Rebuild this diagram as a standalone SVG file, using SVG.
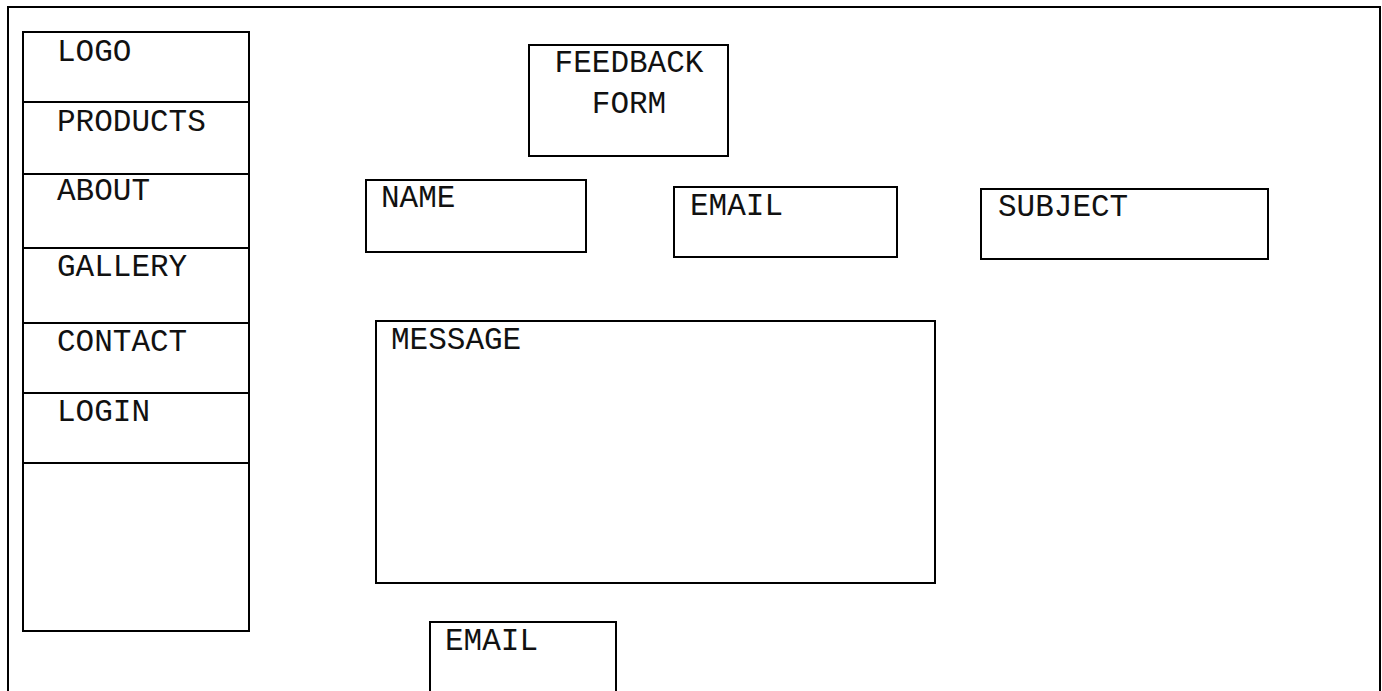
<svg xmlns="http://www.w3.org/2000/svg" width="1382" height="691" viewBox="0 0 1382 691">
  <style>
    .box { fill: #ffffff; stroke: #000000; stroke-width: 2; }
    .line { stroke: #000000; stroke-width: 2; }
    .lbl { font-family: "Liberation Mono", "Courier New", monospace; font-size: 31px; fill: #111111; }
    .mid { text-anchor: middle; }
  </style>
  <rect width="1382" height="691" fill="#ffffff"/>

  <!-- page frame -->
  <g id="page-frame">
    <rect class="box" x="8" y="7" width="1372" height="700" fill="none"/>
  </g>

  <!-- navigation sidebar -->
  <g id="sidebar">
    <rect class="box" x="23" y="32" width="226" height="599"/>
    <line class="line" x1="23" y1="102" x2="249" y2="102"/>
    <line class="line" x1="23" y1="174" x2="249" y2="174"/>
    <line class="line" x1="23" y1="248" x2="249" y2="248"/>
    <line class="line" x1="23" y1="323" x2="249" y2="323"/>
    <line class="line" x1="23" y1="393" x2="249" y2="393"/>
    <line class="line" x1="23" y1="463" x2="249" y2="463"/>
  </g>
  <g id="nav-logo"><text class="lbl" x="57" y="61">LOGO</text></g>
  <g id="nav-products"><text class="lbl" x="57" y="131">PRODUCTS</text></g>
  <g id="nav-about"><text class="lbl" x="57" y="200">ABOUT</text></g>
  <g id="nav-gallery"><text class="lbl" x="57" y="276">GALLERY</text></g>
  <g id="nav-contact"><text class="lbl" x="57" y="351">CONTACT</text></g>
  <g id="nav-login"><text class="lbl" x="57" y="421">LOGIN</text></g>

  <!-- form title -->
  <g id="title">
    <rect class="box" x="529" y="45" width="199" height="111"/>
    <text class="lbl mid" x="629" y="72">FEEDBACK</text>
    <text class="lbl mid" x="629" y="113">FORM</text>
  </g>

  <!-- input fields -->
  <g id="field-name">
    <rect class="box" x="366" y="180" width="220" height="72"/>
    <text class="lbl" x="381" y="207">NAME</text>
  </g>
  <g id="field-email">
    <rect class="box" x="674" y="187" width="223" height="70"/>
    <text class="lbl" x="690" y="215">EMAIL</text>
  </g>
  <g id="field-subject">
    <rect class="box" x="981" y="189" width="287" height="70"/>
    <text class="lbl" x="998" y="216">SUBJECT</text>
  </g>
  <g id="field-message">
    <rect class="box" x="376" y="321" width="559" height="262"/>
    <text class="lbl" x="391" y="349">MESSAGE</text>
  </g>
  <g id="field-email-bottom">
    <rect class="box" x="430" y="622" width="186" height="90"/>
    <text class="lbl" x="445" y="650">EMAIL</text>
  </g>

  <g id="connectors"></g>
</svg>
